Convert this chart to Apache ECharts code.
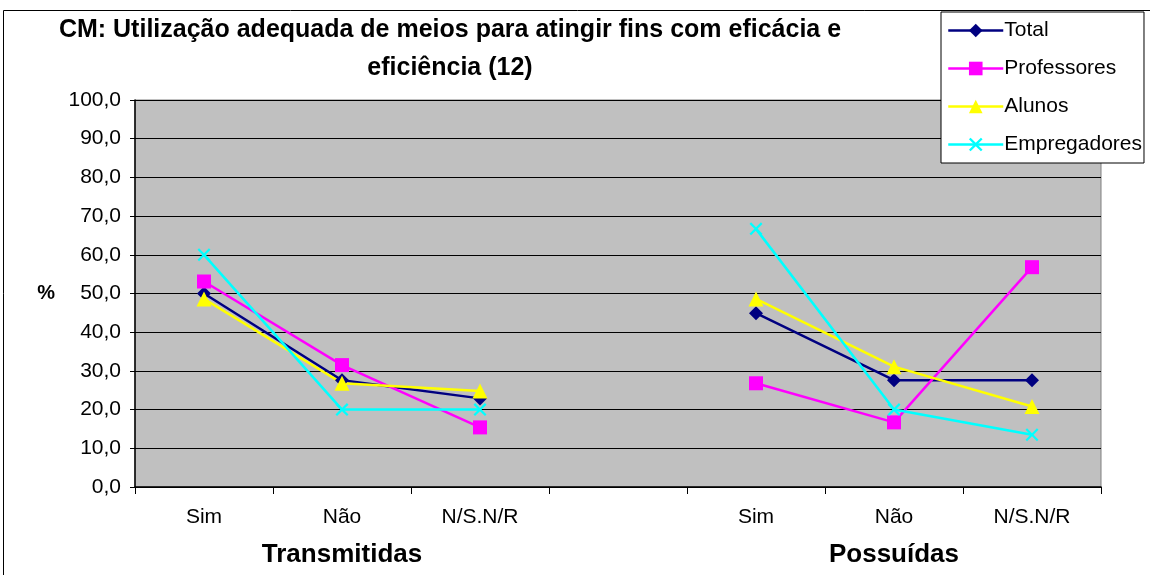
<!DOCTYPE html>
<html>
<head>
<meta charset="utf-8">
<script src="https://cdn.jsdelivr.net/npm/echarts@6/dist/echarts.min.js"></script>
<style>
  html, body { margin: 0; padding: 0; background: #fff; }
  #chart { width: 1150px; height: 575px; }
</style>
</head>
<body>
<div id="chart"></div>
<script>
// categorias (a do meio fica vazia para separar os dois grupos)
const categorias = ["Sim", "Não", "N/S.N/R", "", "Sim", "Não", "N/S.N/R"];
const grupos = ["", "Transmitidas", "", "", "", "Possuídas", ""];

// valores (%)
const total = [50.0, 27.6, 22.9, null, 44.9, 27.6, 27.6];
const professores = [53.1, 31.5, 15.4, null, 26.8, 16.7, 56.8];
const alunos = [48.6, 26.8, 24.8, null, 48.6, 31.1, 20.8];
const empregadores = [60.0, 20.0, 20.0, null, 66.7, 20.0, 13.5];

const yTicks = { min: 0, max: 100, interval: 10 };

const fonte = "Liberation Sans";
const simboloX = "path://M0,1.2 L1.2,0 L5,3.8 L8.8,0 L10,1.2 L6.2,5 L10,8.8 L8.8,10 L5,6.2 L1.2,10 L0,8.8 L3.8,5 Z";

function serie(nome, dados, cor, simbolo, tamanho) {
  return {
    name: nome,
    type: "line",
    data: dados,
    symbol: simbolo,
    symbolSize: tamanho,
    showAllSymbol: true,
    connectNulls: false,
    lineStyle: { color: cor, width: 2.5 },
    itemStyle: { color: cor },
    emphasis: { disabled: true }
  };
}

const chart = echarts.init(document.getElementById("chart"));
chart.setOption({
  animation: false,
  textStyle: { fontFamily: fonte },
  graphic: [
    {
      type: "rect",
      shape: { x: 3.5, y: 10.5, width: 1200, height: 600 },
      style: { fill: "none", stroke: "#000", lineWidth: 1 },
      z: -1
    },
    {
      type: "text",
      x: 450,
      y: 11,
      style: {
        text: "CM: Utilização adequada de meios para atingir fins com eficácia e\neficiência (12)",
        font: "bold 25px " + fonte,
        fill: "#000",
        align: "center",
        lineHeight: 38
      }
    }
  ],
  legend: {
    orient: "vertical",
    left: 941,
    top: 12,
    padding: [8, 2, 8, 6],
    itemGap: 17,
    itemWidth: 55,
    itemHeight: 17,
    backgroundColor: "#fff",
    borderColor: "#000",
    borderWidth: 1,
    lineStyle: { width: 2.5 },
    textStyle: { fontSize: 21, color: "#000", padding: [0, 0, 0, -4] },
    data: ["Total", "Professores", "Alunos", "Empregadores"]
  },
  grid: {
    left: 135,
    right: 49,
    top: 100,
    bottom: 88,
    show: true,
    backgroundColor: "#c0c0c0",
    borderColor: "#808080",
    borderWidth: 1
  },
  xAxis: [
    {
      type: "category",
      data: categorias,
      boundaryGap: true,
      axisLine: { lineStyle: { color: "#000", width: 1.5 } },
      axisTick: { show: true, length: 7, lineStyle: { color: "#000" } },
      axisLabel: { fontSize: 21, color: "#000", margin: 20, interval: 0 },
      splitLine: { show: false }
    },
    {
      type: "category",
      data: grupos,
      position: "bottom",
      boundaryGap: true,
      axisLine: { show: false },
      axisTick: { show: false },
      axisLabel: { fontSize: 26, fontWeight: "bold", color: "#000", margin: 55, interval: 0 },
      splitLine: { show: false }
    }
  ],
  yAxis: {
    type: "value",
    min: yTicks.min,
    max: yTicks.max,
    interval: yTicks.interval,
    name: "%",
    nameLocation: "middle",
    nameRotate: 0,
    nameGap: 80,
    nameTextStyle: { fontSize: 20, fontWeight: "bold", color: "#000" },
    axisLine: { show: true, lineStyle: { color: "#000", width: 1.5 } },
    axisTick: { show: true, length: 5, lineStyle: { color: "#000" } },
    axisLabel: {
      fontSize: 21,
      color: "#000",
      margin: 14,
      formatter: v => v.toFixed(1).replace(".", ",")
    },
    splitLine: { lineStyle: { color: "#000", width: 1 } }
  },
  series: [
    serie("Total", total, "#000080", "diamond", 14),
    serie("Professores", professores, "#ff00ff", "rect", 14),
    serie("Alunos", alunos, "#ffff00", "triangle", 15),
    serie("Empregadores", empregadores, "#00ffff", simboloX, 13)
  ]
});
</script>
</body>
</html>
